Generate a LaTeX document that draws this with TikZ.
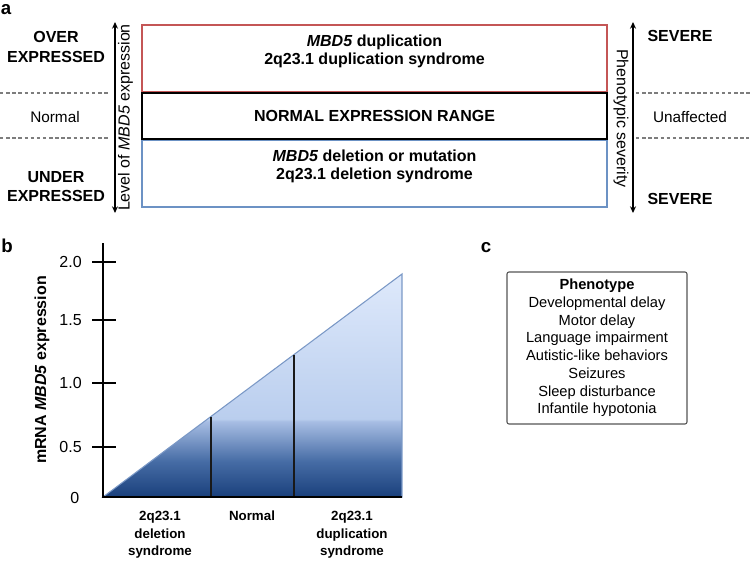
\documentclass[tikz,border=0pt]{standalone}
\usepackage{fontspec}
\setmainfont{Liberation Sans}
\usepackage{xcolor}
\usepackage{tikz}
\usetikzlibrary{arrows.meta, positioning, calc}

\definecolor{dupred}{RGB}{196,86,86}
\definecolor{delblue}{RGB}{108,146,196}
\definecolor{dashgray}{RGB}{125,125,125}
\definecolor{triedge}{RGB}{122,152,198}
\definecolor{tridark}{RGB}{26,64,124}
\definecolor{trideep}{RGB}{70,108,165}
\definecolor{trimid}{RGB}{168,190,228}
\definecolor{trilow}{RGB}{186,206,238}
\definecolor{trilight}{RGB}{222,233,251}
\definecolor{boxgray}{RGB}{85,85,85}
\pgfdeclareverticalshading{trishade}{100bp}{color(0bp)=(tridark); color(25bp)=(tridark); color(33bp)=(trideep); color(42bp)=(trimid); color(42.5bp)=(trilow); color(75bp)=(trilight); color(100bp)=(trilight)}

\begin{document}
\begin{tikzpicture}[x=0.75pt, y=0.75pt,
    panlab/.style={font=\fontsize{14}{16}\selectfont\bfseries, inner sep=0pt},
    rangebox/.style={minimum width=348.75pt, inner sep=0pt},
    boxtext/.style={font=\fontsize{12}{13.5}\selectfont\bfseries, align=center, inner sep=0pt},
    sidelab/.style={font=\fontsize{12}{14.3}\selectfont\bfseries, align=center, inner sep=0pt},
    plainlab/.style={font=\fontsize{11.5}{14}\selectfont, inner sep=0pt},
    axlab/.style={font=\fontsize{12}{14}\selectfont, inner sep=0pt},
    dblarrow/.style={line width=1.3pt, {Stealth[length=5pt, width=4.5pt]}-{Stealth[length=5pt, width=4.5pt]}},
    sepline/.style={dashgray, line width=0.8pt, dash pattern=on 2.6pt off 2pt},
    axisline/.style={line width=1.5pt},
    splitline/.style={line width=1.8pt, black!90},
    ticklab/.style={font=\fontsize{12}{14}\selectfont, inner sep=0pt, anchor=east},
    catlab/.style={font=\fontsize{10}{13.1}\selectfont\bfseries, align=center, inner sep=0pt, anchor=north},
    phenobox/.style={draw=boxgray, line width=0.8pt, rounded corners=1.5pt, minimum width=135pt, minimum height=114pt, align=center, font=\fontsize{11}{13.3}\selectfont}
]
    \useasboundingbox (0,0) rectangle (754,-561);

    % Panel a
    \node[panlab] (pa) at (6,-10) {a};

    % Expression range boxes
    \node[rangebox, draw=dupred, line width=0.9pt, minimum height=50.25pt] (dup) at (374.5,-58.5) {};
    \node[rangebox, draw=delblue, line width=0.9pt, minimum height=50.25pt] (del) at (374.5,-173.5) {};
    \node[rangebox, draw=black, line width=1.5pt, minimum height=34.5pt] (norm) at (374.5,-116) {};
    \node[boxtext] (duptxt) at (374.5,-51) {\textit{MBD5} duplication\\2q23.1 duplication syndrome};
    \node[boxtext] (normtxt) at (norm.center) {NORMAL EXPRESSION RANGE};
    \node[boxtext] (deltxt) at (374.5,-166) {\textit{MBD5} deletion or mutation\\2q23.1 deletion syndrome};

    % Level of expression (left)
    \coordinate (lvltop) at (115,-22);
    \coordinate (lvlbot) at (115,-213);
    \draw[dblarrow] (lvltop) -- (lvlbot);
    \node[axlab, rotate=90] (lvllab) at (125.5,-117.5) {Level of \textit{MBD5} expression};
    \draw[sepline] (0,-93) -- (109,-93);
    \draw[sepline] (0,-138) -- (109,-138);
    \node[sidelab] (over) at (56,-47) {OVER\\EXPRESSED};
    \node[plainlab] (normal) at (55,-117) {Normal};
    \node[sidelab] (under) at (56,-187) {UNDER\\EXPRESSED};

    % Phenotypic severity (right)
    \coordinate (sevtop) at (633,-22);
    \coordinate (sevbot) at (633,-213);
    \draw[dblarrow] (sevtop) -- (sevbot);
    \node[axlab, rotate=-90] (sevlab) at (621,-118.5) {Phenotypic severity};
    \draw[sepline] (636,-93) -- (751,-93);
    \draw[sepline] (636,-138) -- (749,-138);
    \node[sidelab] (severehi) at (680,-35.5) {SEVERE};
    \node[plainlab] (unaff) at (690,-117) {Unaffected};
    \node[sidelab] (severelo) at (680,-198.5) {SEVERE};

    % Panel b
    \node[panlab] (pb) at (7,-246) {b};
    \coordinate (O) at (103,-497);
    \coordinate (ytop) at (103,-243);
    \coordinate (xend) at (402,-497);
    \coordinate (tr) at (402,-274);

    % Shaded triangle
    \shadedraw[shading=trishade, draw=triedge, line width=0.8pt] (O) -- (tr) -- (xend) -- cycle;
    \coordinate (s1) at ($(O)!0.361!(tr)$);
    \coordinate (s2) at ($(O)!0.639!(tr)$);
    \draw[splitline] (s1) -- (s1 |- O);
    \draw[splitline] (s2) -- (s2 |- O);

    % Axes and ticks
    \draw[axisline] (ytop) -- (O) -- (xend);
    \foreach \y/\lab [count=\i] in {262/2.0, 320/1.5, 383/1.0, 447/0.5} {
        \draw[axisline] (92,-\y) -- (116,-\y);
        \node[ticklab] (tk\i) at (82,-\y) {\lab};
    }
    \node[ticklab] (tk0) at (79.5,-498) {0};
    \node[axlab, font=\fontsize{12}{14}\selectfont\bfseries, rotate=90] (ylab) at (42,-370) {mRNA \textit{MBD5} expression};

    % Category labels
    \node[catlab] (catdel) at (160,-511) {2q23.1\\deletion\\syndrome};
    \node[catlab] (catnorm) at (252,-511) {Normal};
    \node[catlab] (catdup) at (352,-511) {2q23.1\\duplication\\syndrome};

    % Panel c
    \node[panlab] (pc) at (486,-248) {c};
    \node[phenobox] (pheno) at (597,-348) {\textbf{Phenotype}\\Developmental delay\\Motor delay\\Language impairment\\Autistic-like behaviors\\Seizures\\Sleep disturbance\\Infantile hypotonia};
\end{tikzpicture}
\end{document}
